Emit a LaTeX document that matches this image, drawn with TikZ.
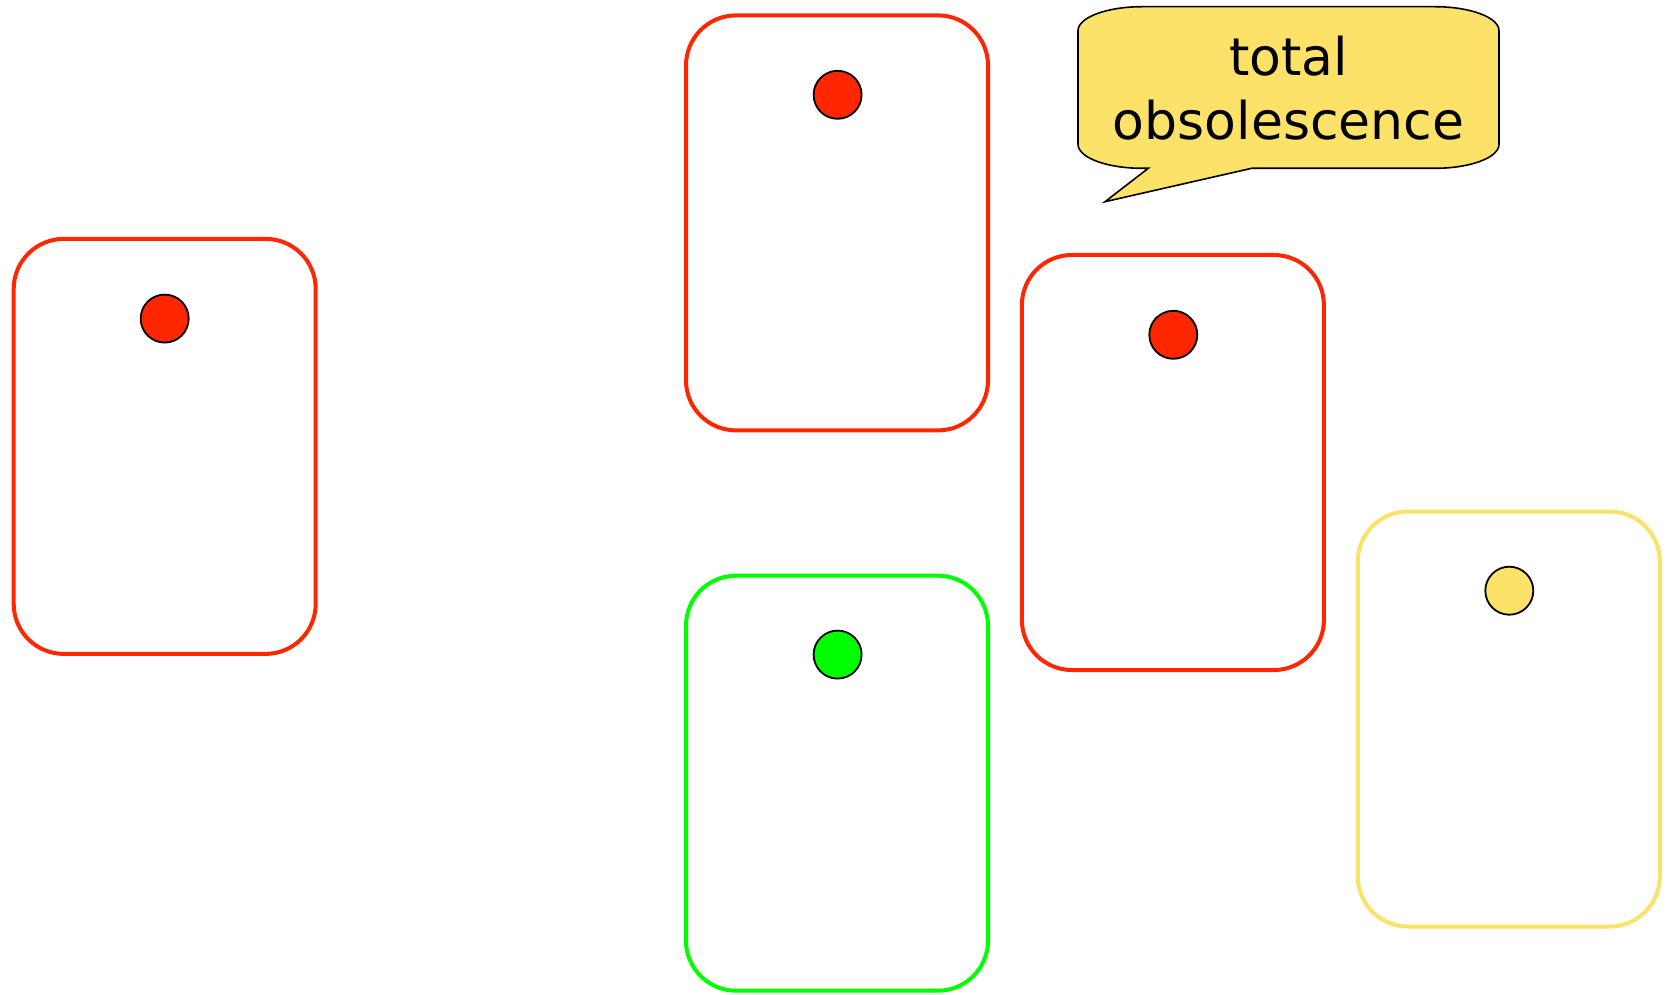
\documentclass[tikz,border=0pt]{standalone}
\usepackage{fontspec}
\setmainfont{DejaVu Sans}
\definecolor{cardred}{RGB}{255,38,0}
\definecolor{cardgreen}{RGB}{0,255,0}
\definecolor{cardyellow}{RGB}{252,226,104}
\tikzset{
  card/.style={draw, rounded corners=50pt, line width=4pt, minimum width=302pt, minimum height=415pt, inner sep=0pt},
  dot/.style={draw=black, line width=1.8pt, circle, minimum size=48pt, inner sep=0pt},
  bubble/.style={draw=black, line width=1.6pt, fill=cardyellow},
}
\begin{document}
\begin{tikzpicture}[x=1pt,y=-1pt]
\useasboundingbox (0,0) rectangle (1671,995);
% cards
\node[card, draw=cardred]    (A) at (164.7,446.4) {};
\node[card, draw=cardred]    (B) at (837,222.9) {};
\node[card, draw=cardgreen]  (C) at (837,783.2) {};
\node[card, draw=cardred]    (D) at (1172.9,462.5) {};
\node[card, draw=cardyellow] (E) at (1508.8,719) {};
% dots
\node[dot, fill=cardred]    (a) at (164.7,318.6) {};
\node[dot, fill=cardred]    (b) at (837.6,94.8) {};
\node[dot, fill=cardgreen]  (c) at (837.6,654.6) {};
\node[dot, fill=cardred]    (d) at (1173.3,334.8) {};
\node[dot, fill=cardyellow] (e) at (1509.3,590.7) {};
% callout
\draw[bubble] (1142,6.7) -- (1435,6.7)
  .. controls (1470.3,6.7) and (1499,17.4) .. (1499,30.7)
  -- (1499,144.3)
  .. controls (1499,157.6) and (1470.3,168.3) .. (1435,168.3)
  -- (1251.7,168.3) -- (1105,201.7) -- (1148.3,168.3) -- (1142,168.3)
  .. controls (1106.7,168.3) and (1078,157.6) .. (1078,144.3)
  -- (1078,30.7)
  .. controls (1078,17.4) and (1106.7,6.7) .. (1142,6.7) -- cycle;
\node[anchor=base, align=center, inner sep=0pt, font=\fontsize{52}{64}\selectfont] (t) at (1288.5,140) {total\\obsolescence};
\end{tikzpicture}
\end{document}
